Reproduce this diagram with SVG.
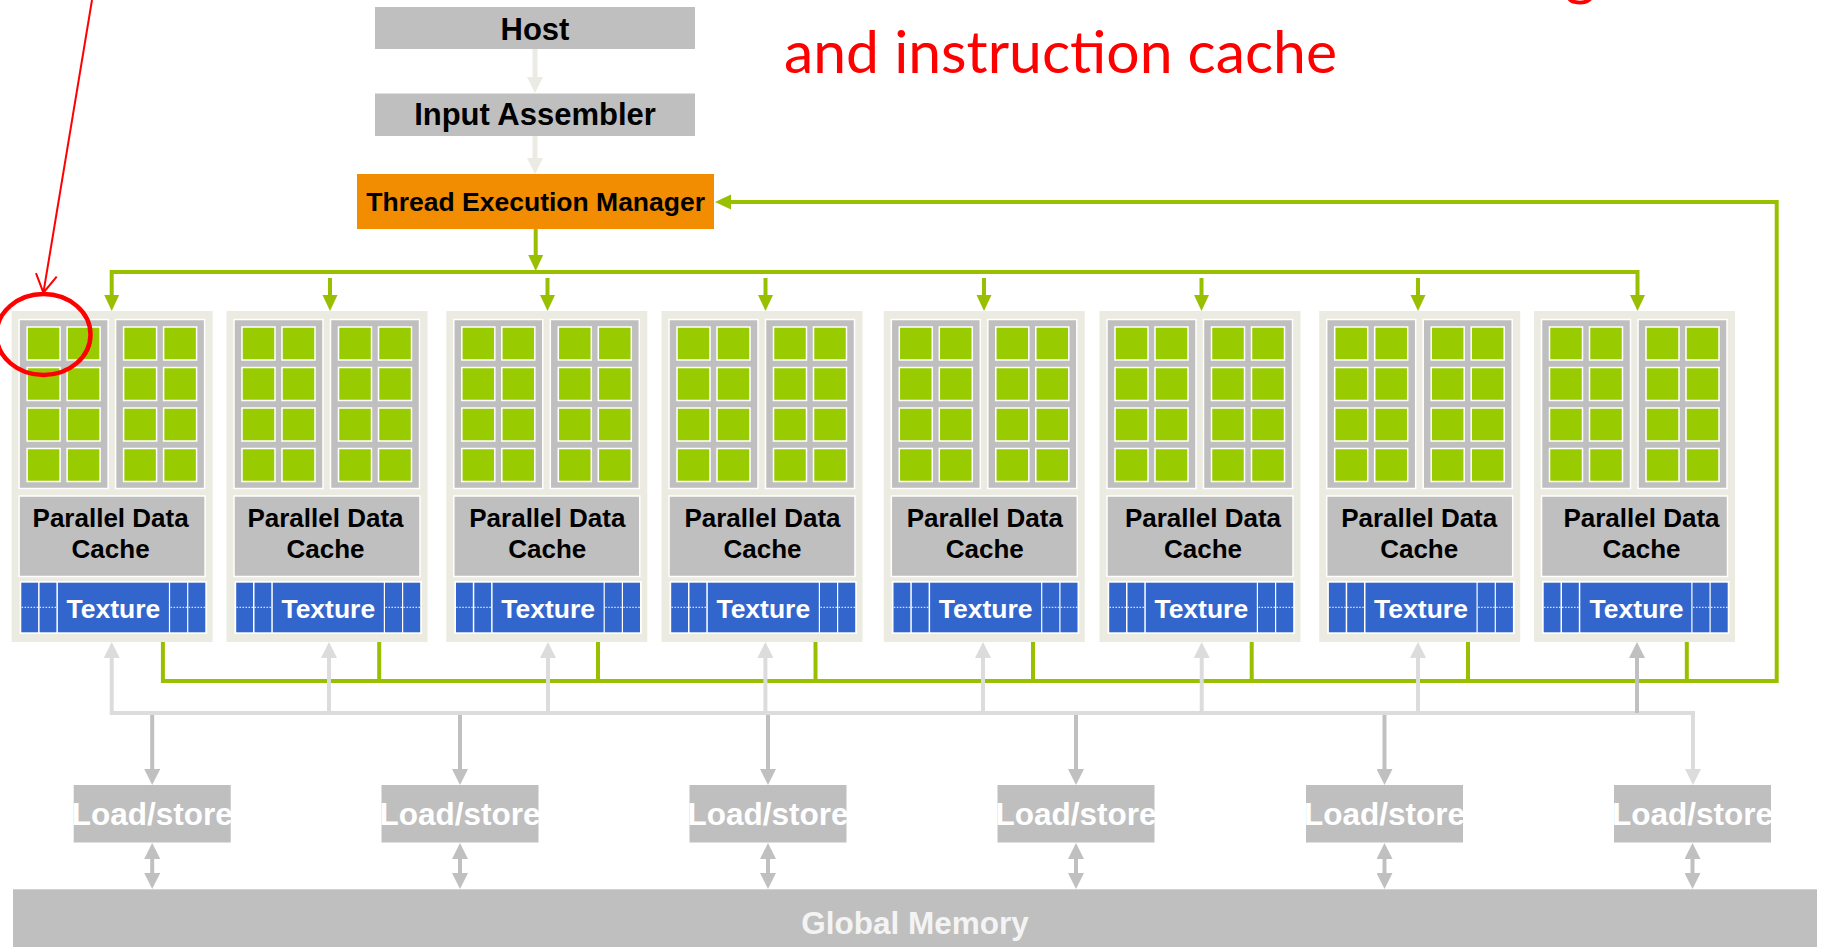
<svg xmlns="http://www.w3.org/2000/svg" xmlns:xlink="http://www.w3.org/1999/xlink" width="1824" height="947" viewBox="0 0 1824 947">
  <style>
    .box-gray { fill: #bfbfbf; }
    .lbl { font-family: "Liberation Sans", Arial, sans-serif; font-weight: bold; text-anchor: middle; }
    .lbl-dark { fill: #000000; }
    .lbl-light { fill: #ffffff; }
    .sm-bg { fill: #ecebe1; }
    .sp { fill: #bfbfbf; stroke: #ffffff; stroke-width: 1.5; }
    .core { fill: #99cc00; stroke: #ffffff; stroke-width: 1.5; }
    .tex { fill: #3366cc; }
    .dots { stroke: #ffffff; stroke-width: 1; stroke-dasharray: 1.5 1.5; fill: none; }
    .wire { fill: none; stroke-linejoin: miter; }
    .w-beige { stroke: #ecebe3; stroke-width: 5; }
    .w-green { stroke: #99c000; stroke-width: 4; }
    .w-light { stroke: #dcdcdc; stroke-width: 4; }
    .w-gray { stroke: #c0c0c0; stroke-width: 4; }
    .note { fill: #ff0000; font-family: Lato, "Open Sans", sans-serif; }
  </style>
  <defs>
    <marker id="ah-beige" markerUnits="userSpaceOnUse" markerWidth="16" markerHeight="16" viewBox="0 0 16 16" refX="8" refY="8" orient="auto-start-reverse">
      <path d="M0,0 L16,8 L0,16 z" fill="#ecebe3"/>
    </marker>
    <marker id="ah-green" markerUnits="userSpaceOnUse" markerWidth="16" markerHeight="16" viewBox="0 0 16 16" refX="8" refY="8" orient="auto-start-reverse">
      <path d="M0,0.5 L16,8 L0,15.5 z" fill="#99c000"/>
    </marker>
    <marker id="ah-light" markerUnits="userSpaceOnUse" markerWidth="16" markerHeight="16" viewBox="0 0 16 16" refX="8" refY="8" orient="auto-start-reverse">
      <path d="M0,0 L16,8 L0,16 z" fill="#dcdcdc"/>
    </marker>
    <marker id="ah-gray" markerUnits="userSpaceOnUse" markerWidth="16" markerHeight="16" viewBox="0 0 16 16" refX="8" refY="8" orient="auto-start-reverse">
      <path d="M0,0 L16,8 L0,16 z" fill="#c0c0c0"/>
    </marker>
    <marker id="ah-red" markerUnits="userSpaceOnUse" markerWidth="24" markerHeight="24" viewBox="0 0 24 24" refX="22" refY="12" orient="auto">
      <path d="M4,1.5 L22,12 L4,22.5" fill="none" stroke="#ff0000" stroke-width="2"/>
    </marker>

    <!-- a column of four cores -->
    <g id="core-col">
      <rect class="core" x="0" y="16" width="33" height="33"/>
      <rect class="core" x="0" y="56.5" width="33" height="33"/>
      <rect class="core" x="0" y="97" width="33" height="33"/>
      <rect class="core" x="0" y="137.5" width="33" height="33"/>
    </g>

    <!-- one streaming multiprocessor: two SP blocks of 8 cores, data cache, texture unit -->
    <g id="sm-shapes">
      <rect class="sm-bg" x="0" y="0" width="201" height="331"/>
      <rect class="sp" x="7.5" y="8.5" width="89" height="169"/>
      <rect class="sp" x="104" y="8.5" width="89" height="169"/>
      <use xlink:href="#core-col" x="15.5"/>
      <use xlink:href="#core-col" x="55.5"/>
      <use xlink:href="#core-col" x="112"/>
      <use xlink:href="#core-col" x="152"/>
      <rect class="sp" x="7.5" y="185" width="186" height="80.5"/>
      <rect x="8" y="270" width="187.5" height="53" fill="#ffffff"/>
      <rect class="tex" x="9.7" y="271.7" width="16.8" height="49.6"/>
      <rect class="tex" x="28" y="271.7" width="16.8" height="49.6"/>
      <rect class="tex" x="46.3" y="271.7" width="111" height="49.6"/>
      <rect class="tex" x="158.5" y="271.7" width="17" height="49.6"/>
      <rect class="tex" x="176.7" y="271.7" width="17" height="49.6"/>
      <path class="dots" d="M10,296.3 H44.8 M159,296.3 H193.7"/>
    </g>
  </defs>

  <rect x="0" y="0" width="1824" height="947" fill="#ffffff"/>

  <!-- connectors -->
  <g id="connectors" class="wire">
    <!-- host to assembler to thread manager -->
    <path class="w-beige" d="M535,49 V85" marker-end="url(#ah-beige)"/>
    <path class="w-beige" d="M535,136 V166" marker-end="url(#ah-beige)"/>
    <!-- thread manager dispatch bus -->
    <path class="w-green" d="M535.7,229 V263" marker-end="url(#ah-green)"/>
    <path class="w-green" d="M111.7,303 V272 H1637.5 V303" marker-start="url(#ah-green)" marker-end="url(#ah-green)"/>
    <path class="w-green" d="M330,278 V303" marker-end="url(#ah-green)"/>
    <path class="w-green" d="M547.5,278 V303" marker-end="url(#ah-green)"/>
    <path class="w-green" d="M765.5,278 V303" marker-end="url(#ah-green)"/>
    <path class="w-green" d="M984,278 V303" marker-end="url(#ah-green)"/>
    <path class="w-green" d="M1201.5,278 V303" marker-end="url(#ah-green)"/>
    <path class="w-green" d="M1418,278 V303" marker-end="url(#ah-green)"/>
    <!-- feedback to thread manager -->
    <path class="w-green" d="M162.9,641 V681 H1776.7 V202 H723" marker-end="url(#ah-green)"/>
    <path class="w-green" d="M379.2,641 V681"/>
    <path class="w-green" d="M598,641 V681"/>
    <path class="w-green" d="M815.5,641 V681"/>
    <path class="w-green" d="M1033,641 V681"/>
    <path class="w-green" d="M1251.7,641 V681"/>
    <path class="w-green" d="M1468,641 V681"/>
    <path class="w-green" d="M1686.8,641 V681"/>
    <!-- memory bus -->
    <path class="w-light" d="M111.7,650 V713 H1693 V777" marker-start="url(#ah-light)" marker-end="url(#ah-light)"/>
    <path class="w-light" d="M329,713 V650" marker-end="url(#ah-light)"/>
    <path class="w-light" d="M548,713 V650" marker-end="url(#ah-light)"/>
    <path class="w-light" d="M765.4,713 V650" marker-end="url(#ah-light)"/>
    <path class="w-light" d="M983,713 V650" marker-end="url(#ah-light)"/>
    <path class="w-light" d="M1201.7,713 V650" marker-end="url(#ah-light)"/>
    <path class="w-light" d="M1418,713 V650" marker-end="url(#ah-light)"/>
    <path class="w-gray" d="M1637,713 V650" marker-end="url(#ah-gray)"/>
    <path class="w-gray" d="M152.2,715 V777" marker-end="url(#ah-gray)"/>
    <path class="w-gray" d="M460,715 V777" marker-end="url(#ah-gray)"/>
    <path class="w-gray" d="M768,715 V777" marker-end="url(#ah-gray)"/>
    <path class="w-gray" d="M1076,715 V777" marker-end="url(#ah-gray)"/>
    <path class="w-gray" d="M1384.5,715 V777" marker-end="url(#ah-gray)"/>
    <!-- load/store to global memory -->
    <path class="w-gray" d="M152.2,851 V881" marker-start="url(#ah-gray)" marker-end="url(#ah-gray)"/>
    <path class="w-gray" d="M460,851 V881" marker-start="url(#ah-gray)" marker-end="url(#ah-gray)"/>
    <path class="w-gray" d="M768,851 V881" marker-start="url(#ah-gray)" marker-end="url(#ah-gray)"/>
    <path class="w-gray" d="M1076,851 V881" marker-start="url(#ah-gray)" marker-end="url(#ah-gray)"/>
    <path class="w-gray" d="M1384.5,851 V881" marker-start="url(#ah-gray)" marker-end="url(#ah-gray)"/>
    <path class="w-gray" d="M1692.5,851 V881" marker-start="url(#ah-gray)" marker-end="url(#ah-gray)"/>
  </g>

  <!-- front end -->
  <g id="host">
    <rect class="box-gray" x="375" y="7" width="320" height="42"/>
    <text class="lbl lbl-dark" x="535" y="40" font-size="31">Host</text>
  </g>
  <g id="input-assembler">
    <rect class="box-gray" x="375" y="93.5" width="320" height="42.5"/>
    <text class="lbl lbl-dark" x="535" y="125" font-size="31">Input Assembler</text>
  </g>
  <g id="thread-execution-manager">
    <rect x="357" y="174" width="357" height="55" fill="#f28c00"/>
    <text class="lbl lbl-dark" x="535.7" y="210.5" font-size="26.5">Thread Execution Manager</text>
  </g>

  <!-- streaming multiprocessors -->
  <g id="sm1" transform="translate(11.6,311)">
    <use xlink:href="#sm-shapes"/>
    <text class="lbl lbl-dark" x="99" y="216.3" font-size="26">Parallel Data</text>
    <text class="lbl lbl-dark" x="99" y="247.3" font-size="26">Cache</text>
    <text class="lbl lbl-light" x="101.8" y="307.3" font-size="26.5">Texture</text>
  </g>
  <g id="sm2" transform="translate(226.5,311)">
    <use xlink:href="#sm-shapes"/>
    <text class="lbl lbl-dark" x="99" y="216.3" font-size="26">Parallel Data</text>
    <text class="lbl lbl-dark" x="99" y="247.3" font-size="26">Cache</text>
    <text class="lbl lbl-light" x="101.8" y="307.3" font-size="26.5">Texture</text>
  </g>
  <g id="sm3" transform="translate(446.3,311)">
    <use xlink:href="#sm-shapes"/>
    <text class="lbl lbl-dark" x="101" y="216.3" font-size="26">Parallel Data</text>
    <text class="lbl lbl-dark" x="101" y="247.3" font-size="26">Cache</text>
    <text class="lbl lbl-light" x="101.8" y="307.3" font-size="26.5">Texture</text>
  </g>
  <g id="sm4" transform="translate(661.5,311)">
    <use xlink:href="#sm-shapes"/>
    <text class="lbl lbl-dark" x="101" y="216.3" font-size="26">Parallel Data</text>
    <text class="lbl lbl-dark" x="101" y="247.3" font-size="26">Cache</text>
    <text class="lbl lbl-light" x="101.8" y="307.3" font-size="26.5">Texture</text>
  </g>
  <g id="sm5" transform="translate(883.8,311)">
    <use xlink:href="#sm-shapes"/>
    <text class="lbl lbl-dark" x="101" y="216.3" font-size="26">Parallel Data</text>
    <text class="lbl lbl-dark" x="101" y="247.3" font-size="26">Cache</text>
    <text class="lbl lbl-light" x="101.8" y="307.3" font-size="26.5">Texture</text>
  </g>
  <g id="sm6" transform="translate(1099.5,311)">
    <use xlink:href="#sm-shapes"/>
    <text class="lbl lbl-dark" x="103.5" y="216.3" font-size="26">Parallel Data</text>
    <text class="lbl lbl-dark" x="103.5" y="247.3" font-size="26">Cache</text>
    <text class="lbl lbl-light" x="101.8" y="307.3" font-size="26.5">Texture</text>
  </g>
  <g id="sm7" transform="translate(1319.2,311)">
    <use xlink:href="#sm-shapes"/>
    <text class="lbl lbl-dark" x="100" y="216.3" font-size="26">Parallel Data</text>
    <text class="lbl lbl-dark" x="100" y="247.3" font-size="26">Cache</text>
    <text class="lbl lbl-light" x="101.8" y="307.3" font-size="26.5">Texture</text>
  </g>
  <g id="sm8" transform="translate(1534,311)">
    <use xlink:href="#sm-shapes"/>
    <text class="lbl lbl-dark" x="107.5" y="216.3" font-size="26">Parallel Data</text>
    <text class="lbl lbl-dark" x="107.5" y="247.3" font-size="26">Cache</text>
    <text class="lbl lbl-light" x="102.5" y="307.3" font-size="26.5">Texture</text>
  </g>

  <!-- load/store units -->
  <g id="ls1">
    <rect class="box-gray" x="73.7" y="785" width="157" height="57.5"/>
    <text class="lbl lbl-light" x="152.2" y="825" font-size="31.5">Load/store</text>
  </g>
  <g id="ls2">
    <rect class="box-gray" x="381.5" y="785" width="157" height="57.5"/>
    <text class="lbl lbl-light" x="460" y="825" font-size="31.5">Load/store</text>
  </g>
  <g id="ls3">
    <rect class="box-gray" x="689.5" y="785" width="157" height="57.5"/>
    <text class="lbl lbl-light" x="768" y="825" font-size="31.5">Load/store</text>
  </g>
  <g id="ls4">
    <rect class="box-gray" x="997.5" y="785" width="157" height="57.5"/>
    <text class="lbl lbl-light" x="1076" y="825" font-size="31.5">Load/store</text>
  </g>
  <g id="ls5">
    <rect class="box-gray" x="1306" y="785" width="157" height="57.5"/>
    <text class="lbl lbl-light" x="1384.5" y="825" font-size="31.5">Load/store</text>
  </g>
  <g id="ls6">
    <rect class="box-gray" x="1614" y="785" width="157" height="57.5"/>
    <text class="lbl lbl-light" x="1692.5" y="825" font-size="31.5">Load/store</text>
  </g>

  <g id="global-memory">
    <rect class="box-gray" x="13" y="889.3" width="1804" height="58"/>
    <text class="lbl" x="915" y="934" font-size="31.5" fill="#f4f4f4">Global Memory</text>
  </g>

  <!-- red annotation -->
  <g id="annotation">
    <text class="note" x="1565" y="-6" font-size="59">g</text>
    <text class="note" x="784" y="72.7" font-size="59" textLength="553" lengthAdjust="spacingAndGlyphs">and instruction cache</text>
    <path d="M92,0 L43.4,292.7" fill="none" stroke="#ff0000" stroke-width="2" marker-end="url(#ah-red)"/>
    <ellipse cx="43.5" cy="334.5" rx="47" ry="40.5" fill="none" stroke="#ff0000" stroke-width="4.5"/>
  </g>
</svg>
